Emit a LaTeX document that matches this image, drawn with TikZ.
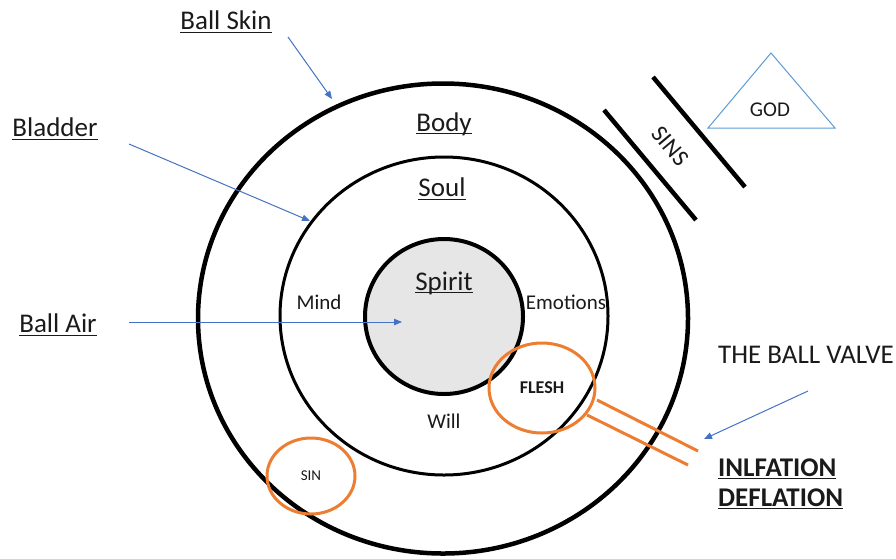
\documentclass[tikz,border=0pt]{standalone}
\usepackage{fontspec}
\setmainfont{Carlito}
\usetikzlibrary{arrows.meta,shapes.geometric}
\definecolor{orng}{HTML}{ED7D31}
\definecolor{blu}{HTML}{4472C4}
\definecolor{lblu}{HTML}{5B9BD5}
\definecolor{spgray}{HTML}{E6E6E6}
\definecolor{txt}{HTML}{1A1A1A}
\newcommand\myul[1]{\setbox0\hbox{#1}\rlap{\rule[-0.11em]{\wd0}{0.05em}}\box0}
\begin{document}
\begin{tikzpicture}[x=1pt,y=-1pt,
  big/.style={font=\fontsize{27}{32}\selectfont, inner sep=0pt, text=txt},
  small/.style={font=\fontsize{21}{25}\selectfont, inner sep=0pt, text=txt},
  ring/.style={draw=black, ellipse, inner sep=0pt},
  ptr/.style={draw=blu, line width=1pt, -{Triangle[length=8pt,width=6.5pt]}},
  oval/.style={draw=orng, line width=3pt, ellipse, inner sep=0pt, text=txt},
  thickbar/.style={draw=black, line width=4.5pt},
  valve/.style={draw=orng, line width=3pt},
]
\useasboundingbox (0,0) rectangle (896,558);
% rings
\node[ring, line width=4.5pt, minimum width=490pt, minimum height=470pt] (outer) at (443,318.5) {};
\node[ring, line width=3pt, minimum width=328pt, minimum height=318pt] (middle) at (444,316) {};
\node[ring, fill=spgray, line width=4pt, minimum width=158pt, minimum height=155pt] (inner) at (444,316.5) {};
% labels inside rings
\node[big] (body) at (444,124) {\myul{Body}};
\node[big] (soul) at (442,189) {\myul{Soul}};
\node[big] (spirit) at (444,283) {\myul{Spirit}};
\node[small] (mind) at (319,302) {Mind};
\node[small] (emo) at (566,302) {Emotions};
\node[small] (will) at (444,421) {Will};
% valve
\coordinate (v1a) at (597,400);
\coordinate (v1b) at (698,451);
\coordinate (v2a) at (587,415);
\coordinate (v2b) at (688,465);
\draw[valve] (v1a) -- (v1b);
\draw[valve] (v2a) -- (v2b);
\node[oval, minimum width=106pt, minimum height=90pt, font=\bfseries\fontsize{18}{21}\selectfont] (flesh) at (542,388) {FLESH};
\node[oval, minimum width=88pt, minimum height=76pt, font=\fontsize{15}{18}\selectfont] (sin) at (311,476) {SIN};
% sins bars
\coordinate (s1a) at (653,77);
\coordinate (s1b) at (745,187);
\coordinate (s2a) at (604,110);
\coordinate (s2b) at (696,220);
\draw[thickbar] (s1a) -- (s1b);
\draw[thickbar] (s2a) -- (s2b);
\node[font=\fontsize{24}{28}\selectfont, inner sep=0pt, rotate=-50, text=txt] (sins) at (670,146) {SINS};
% god triangle
\coordinate (gtop) at (771,53);
\coordinate (gr) at (835,128);
\coordinate (gl) at (708,128);
\draw[lblu, line width=1pt, line join=miter] (gtop) -- (gr) -- (gl) -- cycle;
\node[small] (god) at (770,110) {GOD};
% outer labels
\node[big] (skin) at (226,22) {\myul{Ball Skin}};
\node[big] (bladder) at (55,129) {\myul{Bladder}};
\node[big] (air) at (58,325) {\myul{Ball Air}};
\node[font=\fontsize{27}{31}\selectfont, inner sep=0pt, anchor=base west, text=txt] (valvetxt) at (718,363) {THE BALL VALVE};
\node[font=\bfseries\fontsize{27}{31}\selectfont, inner sep=0pt, anchor=base west, text=txt] (infl) at (718,476.5) {\myul{INLFATION}};
\node[font=\bfseries\fontsize{27}{31}\selectfont, inner sep=0pt, anchor=base west, text=txt] (defl) at (718,506.5) {\myul{DEFLATION}};
% pointers
\coordinate (skinS) at (288,37);
\coordinate (skinE) at (332,99);
\coordinate (bladS) at (129,144);
\coordinate (bladE) at (310,221);
\coordinate (airS) at (129,322);
\coordinate (airE) at (402,322);
\coordinate (valS) at (808,391);
\coordinate (valE) at (704,439);
\draw[ptr] (skinS) -- (skinE);
\draw[ptr] (bladS) -- (bladE);
\draw[ptr] (airS) -- (airE);
\draw[ptr] (valS) -- (valE);
\end{tikzpicture}
\end{document}
